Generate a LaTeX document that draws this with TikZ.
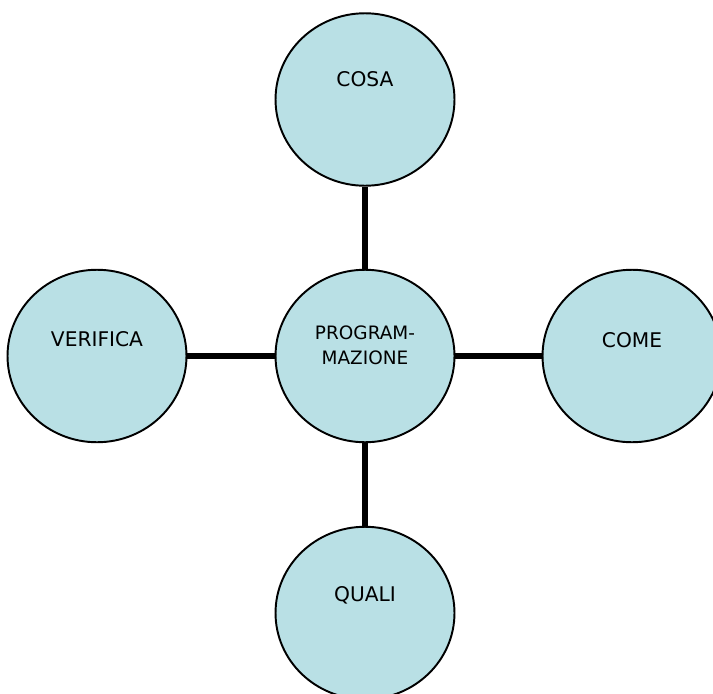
\documentclass[tikz,border=0pt]{standalone}
\usepackage{fontspec}
\setmainfont{DejaVu Sans}
\usetikzlibrary{shapes.geometric}
\definecolor{bubblefill}{RGB}{185,224,229}

\begin{document}
\begin{tikzpicture}[x=0.02cm,y=-0.02cm,
  bubble/.style={ellipse, draw=black, line width=1.1pt, fill=bubblefill,
    minimum width=3.58cm, minimum height=3.45cm, inner sep=0pt},
  spoke/.style={black, line width=3.4pt},
  every label/.style={font=\fontsize{11.5}{14}\selectfont, align=center}]

\clip (0,0) rectangle (713,693);

% circles
\node[bubble, label={[yshift=0.22cm, font=\fontsize{10.5}{14}\selectfont]center:PROGRAM-\\MAZIONE}] (prog) at (365,356) {};
\node[bubble, label={[yshift=0.4cm]center:COSA}] (cosa) at (365,99.5) {};
\node[bubble, label={[yshift=0.34cm]center:VERIFICA}] (verifica) at (97,356) {};
\node[bubble, label={[yshift=0.32cm]center:COME}] (come) at (632,356) {};
\node[bubble, label={[yshift=0.36cm]center:QUALI}] (quali) at (365,613) {};

% spokes
\draw[spoke] (prog) -- (cosa);
\draw[spoke] (prog) -- (verifica);
\draw[spoke] (prog) -- (come);
\draw[spoke] (prog) -- (quali);

\end{tikzpicture}
\end{document}
